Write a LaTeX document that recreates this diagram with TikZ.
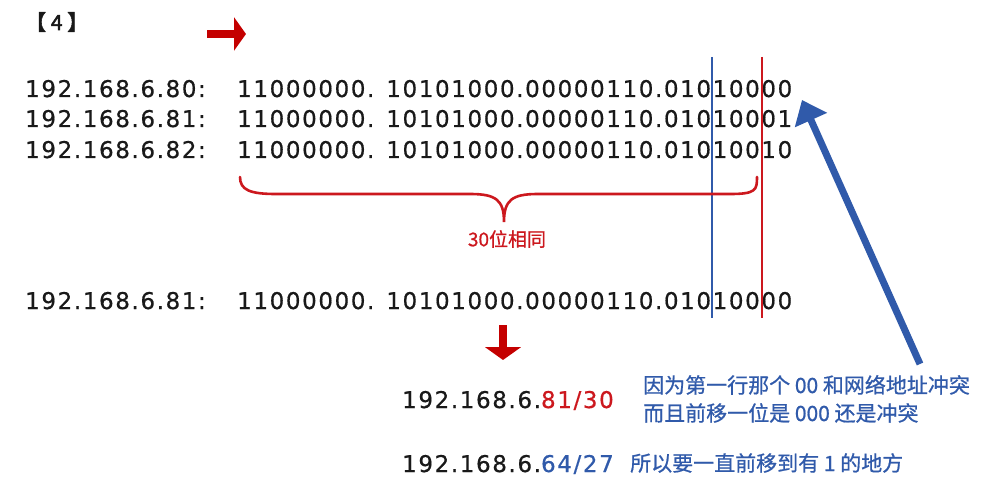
\documentclass[tikz,border=0pt]{standalone}
\usepackage{fontspec}
\usepackage{xcolor}
\usetikzlibrary{arrows.meta, positioning, calc}
\newfontfamily\numfont[LetterSpace=7, FakeBold=0.6]{DejaVu Sans}
\newfontfamily\cjk[FakeBold=0.8]{Noto Sans CJK SC}
\newfontfamily\cjkbold[FakeBold=2.5]{Noto Sans CJK SC}
\definecolor{ipred}{RGB}{204, 24, 30}
\definecolor{ipdark}{RGB}{196, 0, 0}
\definecolor{ipblue}{RGB}{48, 90, 170}
\definecolor{iptext}{RGB}{25, 25, 25}

\begin{document}
\begin{tikzpicture}[x=1pt, y=-1pt,
  addr/.style={anchor=base west, inner sep=0pt, text=iptext,
               font=\numfont\fontsize{23}{26}\selectfont},
  note/.style={anchor=base west, inner sep=0pt, text=ipblue,
               font=\cjk\fontsize{21}{25}\selectfont},
  fatarrow/.style={line width=#1, -{Triangle[length=1.6*#1, width=4.4*#1]}}]
  \useasboundingbox (0,0) rectangle (984,486);
  \node[anchor=base west, inner sep=0pt, text=iptext,
        font=\cjkbold\fontsize{21}{24}\selectfont] (title) at (25,30) {【 4 】};
  % Three addresses in binary
  \foreach \i/\yb/\last in {0/97/00, 1/127/01, 2/158/10} {
    \node[addr] (a\i) at (25,\yb) {192.168.6.8\i:};
    \node[addr] (b\i) at (237,\yb) {11000000. 10101000.00000110.010100\last};
  }
  \node[addr] (a3) at (25,309) {192.168.6.81:};
  \node[addr] (b3) at (237,309) {11000000. 10101000.00000110.01010000};
  % Prefix boundaries
  \coordinate (blue top) at (712,57);
  \coordinate (blue bot) at (712,318);
  \coordinate (red top) at (762,57);
  \coordinate (red bot) at (762,318);
  \draw[ipblue, line width=2pt] (blue top) -- (blue bot);
  \draw[ipred, line width=2pt] (red top) -- (red bot);
  % Brace under the common bits
  \draw[ipred, line width=2.6pt, line cap=round]
    (240,177) .. controls (240,190) and (250,194) .. (276,194) -- (470,194)
    .. controls (496,194) and (504,200) .. (504,222)
    .. controls (504,200) and (512,194) .. (538,194) -- (730,194)
    .. controls (756,194) and (757,190) .. (757,177);
  \node[text=ipred, font=\cjk\fontsize{19}{22}\selectfont] (same) at (507,239) {30位相同};
  % Results
  \node[addr] (r30) at (402,408) {192.168.6.\textcolor{ipred}{81/30}};
  \node[addr] (r27) at (402,472) {192.168.6.\textcolor{ipblue}{64/27}};
  \node[note] (n1) at (643,393) {因为第一行那个 00 和网络地址冲突};
  \node[note] (n2) at (643,421) {而且前移一位是 000 还是冲突};
  \node[note] (n3) at (630,471) {所以要一直前移到有 1 的地方};
  % Arrows
  \coordinate (rtail) at (207,34);
  \coordinate (rtip) at (246,34);
  \coordinate (dtail) at (503,325);
  \coordinate (dtip) at (503,360);
  \coordinate (btail) at (920,364);
  \coordinate (btip) at (802,100);
  \draw[ipdark, fatarrow=7.5pt] (rtail) -- (rtip);
  \draw[ipdark, fatarrow=8pt] (dtail) -- (dtip);
  \draw[ipblue, line width=7pt, -{Triangle[length=22pt, width=34pt]}] (btail) -- (btip);
\end{tikzpicture}
\end{document}
